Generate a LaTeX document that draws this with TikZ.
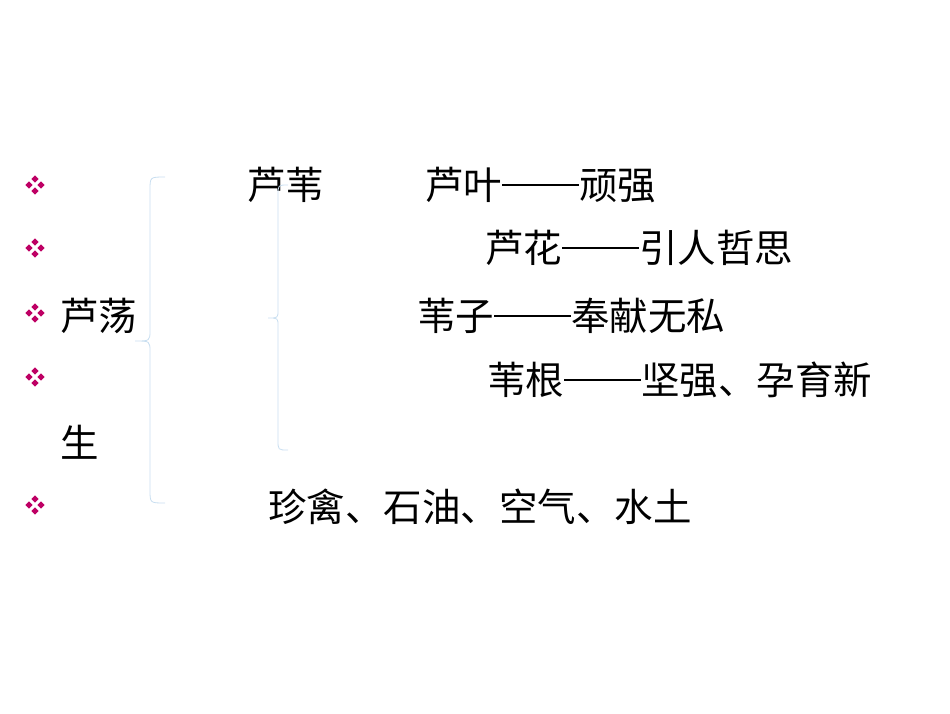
\documentclass[tikz,border=0pt]{standalone}
\usepackage{fontspec}
\newfontfamily\cjk{Noto Sans CJK SC}
\definecolor{bul}{RGB}{190,0,100}
\definecolor{br}{RGB}{200,222,240}
\newcommand\dd{\rule[0.36em]{2em}{0.035em}}
\begin{document}
\begin{tikzpicture}[x=1pt,y=-1pt,
  txt/.style={anchor=west,inner sep=0pt,font=\cjk\fontsize{38.5}{38.5}\selectfont},
  brace/.style={draw=br,line width=0.8pt}]
\useasboundingbox (0,0) rectangle (950,713);
\newcommand\bulletmark[1]{%
  \foreach \dx/\dy in {0/-6,0/6,-6/0,6/0}{
    \fill[bul] (35+\dx,#1+\dy) +(0,-3.6) -- +(3.6,0) -- +(0,3.6) -- +(-3.6,0) -- cycle;}}
\bulletmark{185}\bulletmark{248}\bulletmark{313}\bulletmark{377}\bulletmark{505}
\node[txt] (t1) at (247,185) {芦苇};
\node[txt] (t2) at (425,185) {芦叶\dd 顽强};
\node[txt] (t3) at (485,248) {芦花\dd 引人哲思};
\node[txt] (t4) at (60,316) {芦荡};
\node[txt] (t5) at (417,316) {苇子\dd 奉献无私};
\node[txt] (t6) at (487,380) {苇根\dd 坚强、孕育新};
\node[txt] (t7) at (60,442) {生};
\node[txt] (t8) at (268,507) {珍禽、石油、空气、水土};
\draw[brace] (165,177) .. controls (150,177) .. (150,190) -- (150,330) .. controls (150,341) .. (135,341) .. controls (150,341) .. (150,352) -- (150,490) .. controls (150,503) .. (165,503);
\draw[brace] (288,185) .. controls (278,185) .. (278,195) -- (278,310) .. controls (278,318) .. (268,318) .. controls (278,318) .. (278,326) -- (278,440) .. controls (278,450) .. (288,450);
\end{tikzpicture}
\end{document}
